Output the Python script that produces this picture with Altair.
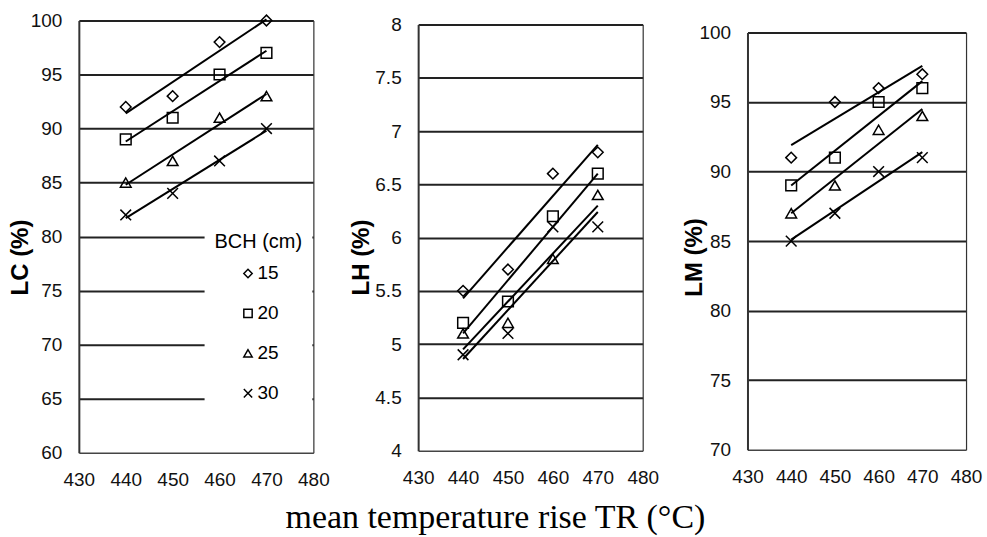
import altair as alt
import pandas as pd

temps = [440, 450, 460, 470]
bch_levels = ["15", "20", "25", "30"]

lc_15 = [92, 93, 98, 100]
lc_20 = [89, 91, 95, 97]
lc_25 = [85, 87, 91, 93]
lc_30 = [82, 84, 87, 90]

lh_15 = [5.5, 5.7, 6.6, 6.8]
lh_20 = [5.2, 5.4, 6.2, 6.6]
lh_25 = [5.1, 5.2, 5.8, 6.4]
lh_30 = [4.9, 5.1, 6.1, 6.1]

lm_15 = [91, 95, 96, 97]
lm_20 = [89, 91, 95, 96]
lm_25 = [87, 89, 93, 94]
lm_30 = [85, 87, 90, 91]

x_ticks = [430, 440, 450, 460, 470, 480]
lc_ticks = [60, 65, 70, 75, 80, 85, 90, 95, 100]
lh_ticks = [4, 4.5, 5, 5.5, 6, 6.5, 7, 7.5, 8]
lm_ticks = [70, 75, 80, 85, 90, 95, 100]


def long(series):
    rows = []
    for b, vals in zip(bch_levels, series):
        for t, v in zip(temps, vals):
            rows.append({"tr": t, "val": v, "bch": b})
    return pd.DataFrame(rows)


df_lc = long([lc_15, lc_20, lc_25, lc_30])
df_lh = long([lh_15, lh_20, lh_25, lh_30])
df_lm = long([lm_15, lm_20, lm_25, lm_30])

shape_scale = alt.Scale(
    domain=bch_levels,
    range=["diamond", "square", "triangle-up", "M-1,-1L1,1M-1,1L1,-1"],
)

H = 433
FONT = "Liberation Sans"


def panel(df, title, ticks, yrange, width, xoffset, title_x, legend):
    xscale = alt.Scale(domain=[430, 480], nice=False, zero=False)
    xaxis = alt.Axis(
        values=x_ticks, title=None, grid=False, ticks=False, domain=True,
        offset=xoffset, labelPadding=18, labelFontSize=19, labelFont=FONT,
        labelColor="#111", domainColor="#444", domainWidth=1.5,
        labelFlush=False, labelOverlap=False, labelExpr="'' + datum.value",
    )
    yscale = alt.Scale(domain=[ticks[0], ticks[-1]], range=yrange, nice=False, zero=False)
    yaxis = alt.Axis(
        values=ticks, labelExpr="'' + datum.value", title=title, grid=False, ticks=False,
        domain=True, domainColor="#333", domainWidth=2,
        labelPadding=17, labelFontSize=19, labelFont=FONT, labelColor="#111",
        labelFlush=False, labelOverlap=False,
        titleX=title_x, titleY=237, titleBaseline="middle", titleAlign="center",
        titleFontSize=24, titleFontWeight="bold", titleFont=FONT, titleColor="black",
    )
    raxis = alt.Axis(
        orient="right", values=ticks[1:], labels=False, ticks=False, title=None,
        grid=True, gridColor="#222", gridWidth=2, gridOpacity=1,
        domain=True, domainColor="#333", domainWidth=1.2,
    )
    pts = alt.Chart(df).mark_point(
        filled=False, size=115, strokeWidth=1.5, color="black", opacity=1
    ).encode(
        x=alt.X("tr:Q", scale=xscale, axis=xaxis),
        y=alt.Y("val:Q", scale=yscale, axis=yaxis),
        shape=alt.Shape("bch:N", scale=shape_scale, legend=legend),
    )
    lines = alt.Chart(df).transform_regression(
        "tr", "val", groupby=["bch"], extent=[440, 470]
    ).mark_line(color="black", strokeWidth=2).encode(
        x=alt.X("tr:Q", scale=xscale, axis=xaxis),
        y=alt.Y("val:Q", scale=yscale, axis=raxis),
        detail="bch:N",
    )
    return alt.layer(lines, pts).resolve_scale(y="independent").properties(
        width=width, height=H
    )


legend = alt.Legend(
    orient="none", legendX=126, legendY=202, title="BCH (cm)",
    titleFont=FONT, titleFontSize=20, titleFontWeight="normal", titleColor="black",
    labelFont=FONT, labelFontSize=19, labelColor="black",
    fillColor="white", padding=10, titlePadding=12, rowPadding=20,
    symbolSize=70, symbolStrokeWidth=1.5, symbolStrokeColor="black",
    symbolOffset=24, labelOffset=0, direction="vertical",
)

p1 = panel(df_lc, "LC (%)", lc_ticks, [433, 0], 235, 0, -58, legend)
p2 = panel(df_lh, "LH (%)", lh_ticks, [431, 4], 225, -2, -57, None)
p3 = panel(df_lm, "LM (%)", lm_ticks, [430, 12], 219, -3, -53, None)

chart = alt.hconcat(p1, p2, p3, spacing=105, bounds="flush").properties(
    title=alt.TitleParams(
        "mean temperature rise TR (°C)", orient="bottom", anchor="middle",
        font="Liberation Serif", fontSize=34, fontWeight="normal",
        color="black", offset=12,
    ),
    padding={"left": 9, "top": 11, "right": 5, "bottom": 5},
).configure_view(stroke=None)

chart.save("out.html", embed_options={"renderer": "svg", "actions": False})
